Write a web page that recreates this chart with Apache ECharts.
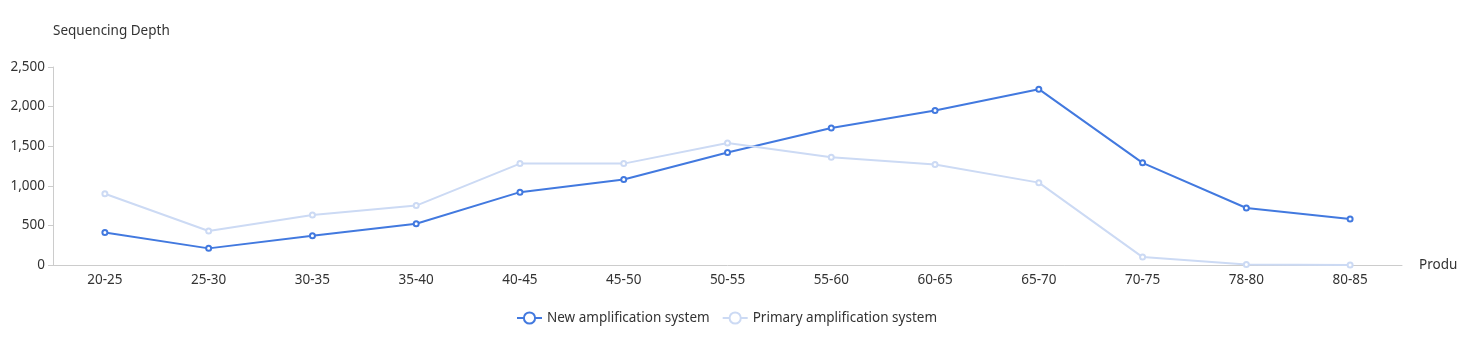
<!DOCTYPE html>
<html>
<head>
<meta charset="utf-8">
<script src="https://cdn.jsdelivr.net/npm/echarts@6/dist/echarts.min.js"></script>
<style>
  html, body { margin: 0; padding: 0; background: #fff; }
  #chart { width: 1475px; height: 342px; }
</style>
</head>
<body>
<div id="chart"></div>
<script>
// Product length bins on the x axis
const categories = ['20-25', '25-30', '30-35', '35-40', '40-45', '45-50', '50-55', '55-60', '60-65', '65-70', '70-75', '78-80', '80-85'];
// Sequencing depth per bin
const newSystem = [410, 210, 370, 520, 920, 1080, 1420, 1730, 1950, 2220, 1290, 720, 580];
const primarySystem = [900, 430, 630, 750, 1280, 1280, 1540, 1360, 1270, 1040, 100, 5, 0];
const seriesNames = ['New amplification system', 'Primary amplification system'];

const font = '"Noto Sans", "Microsoft YaHei", sans-serif';
const fs = 13.5;
const chart = echarts.init(document.getElementById('chart'));
chart.setOption({
  animation: false,
  textStyle: { fontFamily: font },
  grid: { left: 53, right: 73, top: 67, bottom: 77, outerBoundsMode: 'none', containLabel: false },
  legend: {
    left: 511,
    bottom: 12,
    itemGap: 12,
    textStyle: { fontSize: fs, color: '#333', fontFamily: font },
    data: seriesNames
  },
  xAxis: {
    type: 'category',
    data: categories,
    name: 'Product Length',
    nameGap: 17,
    nameTruncate: { maxWidth: 40, ellipsis: '' },
    nameTextStyle: { color: '#333', fontSize: fs },
    axisLine: { lineStyle: { color: '#ccc' } },
    axisTick: { show: false },
    axisLabel: { color: '#333', fontSize: fs, margin: 8 }
  },
  yAxis: {
    type: 'value',
    min: 0,
    max: 2500,
    interval: 500,
    name: 'Sequencing Depth',
    nameGap: 29,
    nameTextStyle: { color: '#333', fontSize: fs, align: 'left' },
    axisLine: { show: true, lineStyle: { color: '#ccc' } },
    axisTick: { show: true, lineStyle: { color: '#ccc' } },
    splitLine: { show: false },
    axisLabel: { color: '#333', fontSize: fs }
  },
  series: [
    {
      name: seriesNames[0],
      type: 'line',
      data: newSystem,
      symbol: 'emptyCircle',
      symbolSize: 5,
      lineStyle: { width: 2, color: '#4279df' },
      itemStyle: { color: '#4279df' }
    },
    {
      name: seriesNames[1],
      type: 'line',
      data: primarySystem,
      symbol: 'emptyCircle',
      symbolSize: 5,
      lineStyle: { width: 2, color: '#ccdaf4' },
      itemStyle: { color: '#ccdaf4' }
    }
  ]
});
</script>
</body>
</html>
